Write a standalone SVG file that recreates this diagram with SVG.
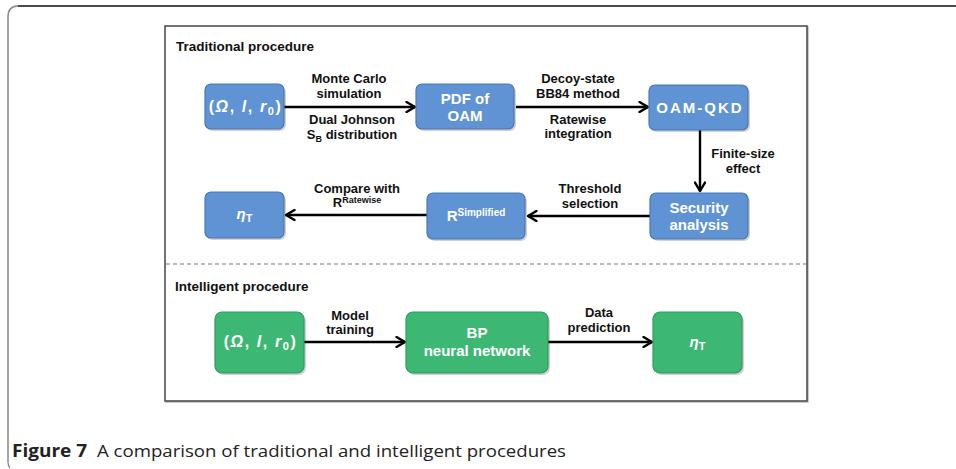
<svg xmlns="http://www.w3.org/2000/svg" width="956" height="469" viewBox="0 0 956 469">
  <style>
    .lbl { font-family: "Liberation Sans", Arial, sans-serif; font-weight: bold; font-size: 13px; fill: #111; text-anchor: middle; }
    .head { font-family: "Liberation Sans", Arial, sans-serif; font-weight: bold; font-size: 13.5px; fill: #111; }
    .ntxt { font-family: "Liberation Sans", Arial, sans-serif; font-weight: bold; font-size: 15px; fill: #fff; text-anchor: middle; }
    .wide { font-size: 16px; letter-spacing: 1.6px; }
    .blue { fill: #5f93d3; stroke: #4a78b4; stroke-width: 1.2; }
    .green { fill: #3db874; stroke: #2f9a5e; stroke-width: 1.2; }
    .shadow { fill: #000; opacity: 0.18; }
    .conn { stroke: #000; stroke-width: 2.4; fill: none; marker-end: url(#arr); }
    .cap { font-family: "Open Sans", "Liberation Sans", sans-serif; font-size: 17px; fill: #222; }
  </style>
  <defs>
    <marker id="arr" viewBox="0 0 12 12" refX="10.5" refY="6" markerWidth="12" markerHeight="12" markerUnits="userSpaceOnUse" orient="auto">
      <path d="M2,1 L10.5,6 L2,11" fill="none" stroke="#000" stroke-width="2.4" stroke-linecap="round" stroke-linejoin="round"/>
    </marker>
  </defs>

  <rect width="956" height="469" fill="#fff"/>

  <!-- page frame -->
  <path d="M18,6 H956" stroke="#111" stroke-width="1.5" fill="none"/>
  <path d="M8,462 V17 Q8,6 18,6" stroke="#888" stroke-width="1.5" fill="none"/>
  <path d="M8,462 Q8,466 10,468" stroke="#888" stroke-width="1.2" fill="none"/>

  <!-- figure panel -->
  <rect x="166" y="27" width="642" height="375" fill="none" stroke="#bbb" stroke-width="1.5"/>
  <rect x="165" y="26" width="642" height="375" fill="#fff" stroke="#444" stroke-width="1.5"/>
  <line x1="166" y1="264" x2="806" y2="264" stroke="#777" stroke-width="1" stroke-dasharray="4,3"/>

  <text class="head" x="176" y="51">Traditional procedure</text>
  <text class="head" x="175" y="291">Intelligent procedure</text>

  <!-- connectors -->
  <g id="connectors">
    <line class="conn" x1="284" y1="107" x2="415" y2="107"/>
    <line class="conn" x1="516" y1="107" x2="648" y2="107"/>
    <line class="conn" x1="700" y1="130" x2="700" y2="191"/>
    <line class="conn" x1="650" y1="216" x2="528" y2="216"/>
    <line class="conn" x1="427" y1="215" x2="286" y2="215"/>
    <line class="conn" x1="304" y1="342" x2="405" y2="342"/>
    <line class="conn" x1="548" y1="342" x2="652" y2="342"/>

    <text class="lbl" x="349" y="83">Monte Carlo</text>
    <text class="lbl" x="349" y="98">simulation</text>
    <text class="lbl" x="352" y="124">Dual Johnson</text>
    <text class="lbl" x="352" y="139">S<tspan font-size="9" dy="3">B</tspan><tspan dy="-3"> distribution</tspan></text>

    <text class="lbl" x="578" y="83">Decoy-state</text>
    <text class="lbl" x="578" y="98">BB84 method</text>
    <text class="lbl" x="578" y="124">Ratewise</text>
    <text class="lbl" x="578" y="138">integration</text>

    <text class="lbl" x="743" y="158">Finite-size</text>
    <text class="lbl" x="743" y="173">effect</text>

    <text class="lbl" x="590" y="193">Threshold</text>
    <text class="lbl" x="590" y="208">selection</text>

    <text class="lbl" x="357" y="193">Compare with</text>
    <text class="lbl" x="357" y="207">R<tspan font-size="9" dy="-4">Ratewise</tspan></text>

    <text class="lbl" x="350" y="320">Model</text>
    <text class="lbl" x="350" y="334">training</text>

    <text class="lbl" x="599" y="317">Data</text>
    <text class="lbl" x="599" y="332">prediction</text>
  </g>

  <!-- traditional procedure nodes -->
  <g id="t-input">
    <rect class="shadow" x="207" y="86" width="79" height="45" rx="6"/>
    <rect class="blue" x="205" y="84" width="79" height="45" rx="6"/>
    <text class="ntxt wide" x="245.5" y="112">(<tspan font-style="italic">Ω</tspan>, <tspan font-style="italic">l</tspan>, <tspan font-style="italic">r</tspan><tspan font-size="11" dy="3">0</tspan><tspan dy="-3">)</tspan></text>
  </g>
  <g id="t-pdf">
    <rect class="shadow" x="418" y="86" width="98" height="45" rx="6"/>
    <rect class="blue" x="416" y="84" width="98" height="45" rx="6"/>
    <text class="ntxt" x="465" y="104">PDF of</text>
    <text class="ntxt" x="465" y="121">OAM</text>
  </g>
  <g id="t-qkd">
    <rect class="shadow" x="651" y="87" width="99" height="45" rx="6"/>
    <rect class="blue" x="649" y="85" width="99" height="45" rx="6"/>
    <text class="ntxt" x="700" y="113" font-size="16" letter-spacing="2">OAM-QKD</text>
  </g>
  <g id="t-security">
    <rect class="shadow" x="652" y="195" width="98" height="46" rx="6"/>
    <rect class="blue" x="650" y="193" width="98" height="46" rx="6"/>
    <text class="ntxt" x="699" y="213">Security</text>
    <text class="ntxt" x="699" y="230">analysis</text>
  </g>
  <g id="t-simplified">
    <rect class="shadow" x="429" y="195" width="98" height="46" rx="6"/>
    <rect class="blue" x="427" y="193" width="98" height="46" rx="6"/>
    <text class="ntxt" x="476" y="221">R<tspan font-size="10" dy="-5">Simplified</tspan></text>
  </g>
  <g id="t-eta">
    <rect class="shadow" x="207" y="194" width="79" height="46" rx="6"/>
    <rect class="blue" x="205" y="192" width="79" height="46" rx="6"/>
    <text class="ntxt" x="244.5" y="219"><tspan font-style="italic">η</tspan><tspan font-size="11" dy="3">T</tspan></text>
  </g>

  <!-- intelligent procedure nodes -->
  <g id="i-input">
    <rect class="shadow" x="217" y="314" width="89" height="61" rx="7"/>
    <rect class="green" x="215" y="312" width="89" height="61" rx="7"/>
    <text class="ntxt wide" x="260.5" y="347">(<tspan font-style="italic">Ω</tspan>, <tspan font-style="italic">l</tspan>, <tspan font-style="italic">r</tspan><tspan font-size="11" dy="3">0</tspan><tspan dy="-3">)</tspan></text>
  </g>
  <g id="i-bp">
    <rect class="shadow" x="408" y="314" width="142" height="61" rx="7"/>
    <rect class="green" x="406" y="312" width="142" height="61" rx="7"/>
    <text class="ntxt" x="477" y="338">BP</text>
    <text class="ntxt" x="477" y="356">neural network</text>
  </g>
  <g id="i-eta">
    <rect class="shadow" x="655" y="314" width="89" height="61" rx="7"/>
    <rect class="green" x="653" y="312" width="89" height="61" rx="7"/>
    <text class="ntxt" x="697.5" y="347"><tspan font-style="italic">η</tspan><tspan font-size="11" dy="3">T</tspan></text>
  </g>

  <!-- caption -->
  <text class="cap" x="12" y="457" font-weight="bold" textLength="75" lengthAdjust="spacingAndGlyphs">Figure 7</text>
  <text class="cap" x="97" y="457" textLength="469" lengthAdjust="spacingAndGlyphs">A comparison of traditional and intelligent procedures</text>
</svg>
